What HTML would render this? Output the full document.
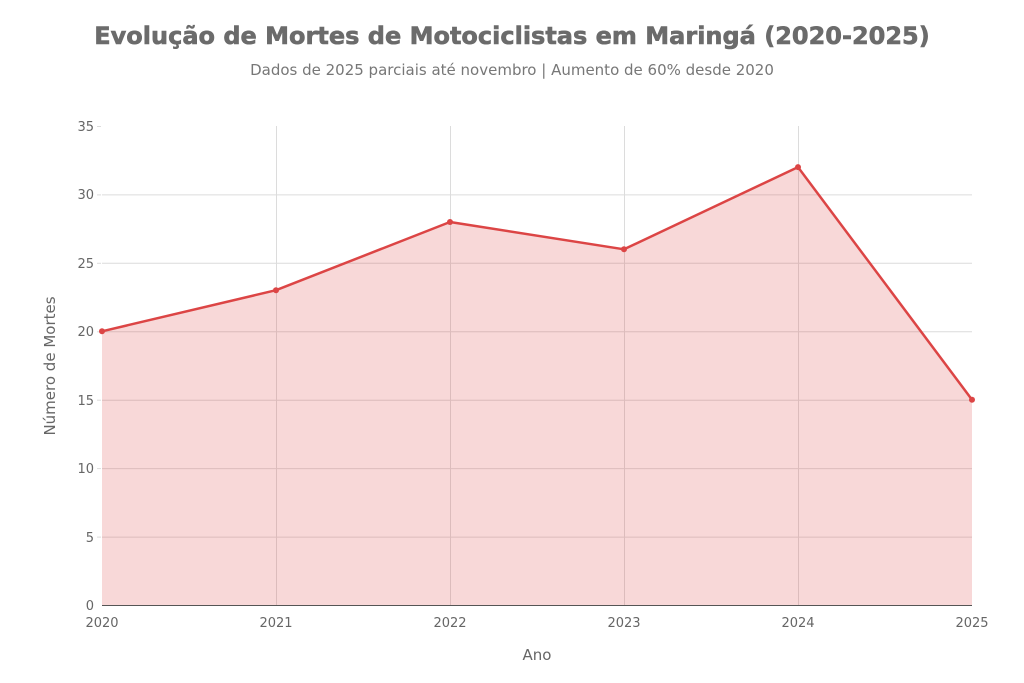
<!DOCTYPE html>
<html><head><meta charset="utf-8"><style>
html,body{margin:0;padding:0;background:#fff;}
svg{display:block;font-family:"DejaVu Sans","Liberation Sans",sans-serif;}
</style></head><body>
<svg width="1024" height="683" viewBox="0 0 1024 683" xmlns="http://www.w3.org/2000/svg">
<rect width="1024" height="683" fill="#fff"/>
<text x="512" y="44" text-anchor="middle" font-size="24" font-weight="bold" fill="#6b6b6b" stroke="#6b6b6b" stroke-width="0.6">Evolução de Mortes de Motociclistas em Maringá (2020-2025)</text>
<text x="512" y="75" text-anchor="middle" font-size="15" fill="#777">Dados de 2025 parciais até novembro | Aumento de 60% desde 2020</text>
<g stroke="#dcdcdc" stroke-width="1">
<line x1="102" y1="194.9" x2="972" y2="194.9"/>
<line x1="102" y1="263.3" x2="972" y2="263.3"/>
<line x1="102" y1="331.8" x2="972" y2="331.8"/>
<line x1="102" y1="400.2" x2="972" y2="400.2"/>
<line x1="102" y1="468.6" x2="972" y2="468.6"/>
<line x1="102" y1="537.1" x2="972" y2="537.1"/>
<line x1="276.5" y1="126" x2="276.5" y2="605"/>
<line x1="450.5" y1="126" x2="450.5" y2="605"/>
<line x1="624.5" y1="126" x2="624.5" y2="605"/>
<line x1="798.5" y1="126" x2="798.5" y2="605"/>
<line x1="97" y1="126.5" x2="101" y2="126.5"/>
<line x1="97" y1="194.9" x2="101" y2="194.9"/>
<line x1="97" y1="263.3" x2="101" y2="263.3"/>
<line x1="97" y1="331.8" x2="101" y2="331.8"/>
<line x1="97" y1="400.2" x2="101" y2="400.2"/>
<line x1="97" y1="468.6" x2="101" y2="468.6"/>
<line x1="97" y1="537.1" x2="101" y2="537.1"/>
</g>
<polygon points="102,605 102,331.3 276,290.2 450,222 624,249.3 798,167.1 972,399.7 972,605" fill="rgba(220,60,60,0.2)"/>
<line x1="102" y1="605.5" x2="972" y2="605.5" stroke="#555" stroke-width="1"/>
<polyline points="102,331.3 276,290.2 450,222 624,249.3 798,167.1 972,399.7" fill="none" stroke="#dc4545" stroke-width="2.5" stroke-linejoin="round"/>
<g fill="#dc4545">
<circle cx="102" cy="331.3" r="3"/><circle cx="276" cy="290.2" r="3"/><circle cx="450" cy="222" r="3"/>
<circle cx="624" cy="249.3" r="3"/><circle cx="798" cy="167.1" r="3"/><circle cx="972" cy="399.7" r="3"/>
</g>
<g font-size="13" fill="#666" text-anchor="end">
<text x="94" y="131">35</text><text x="94" y="199">30</text><text x="94" y="268">25</text>
<text x="94" y="336">20</text><text x="94" y="405">15</text><text x="94" y="473">10</text>
<text x="94" y="542">5</text><text x="94" y="610">0</text>
</g>
<g font-size="13" fill="#666" text-anchor="middle">
<text x="102" y="627">2020</text><text x="276" y="627">2021</text><text x="450" y="627">2022</text>
<text x="624" y="627">2023</text><text x="798" y="627">2024</text><text x="972" y="627">2025</text>
</g>
<text x="537" y="660" text-anchor="middle" font-size="15" fill="#666">Ano</text>
<text transform="translate(55,366) rotate(-90)" text-anchor="middle" font-size="15" fill="#666">Número de Mortes</text>
</svg>
</body></html>
